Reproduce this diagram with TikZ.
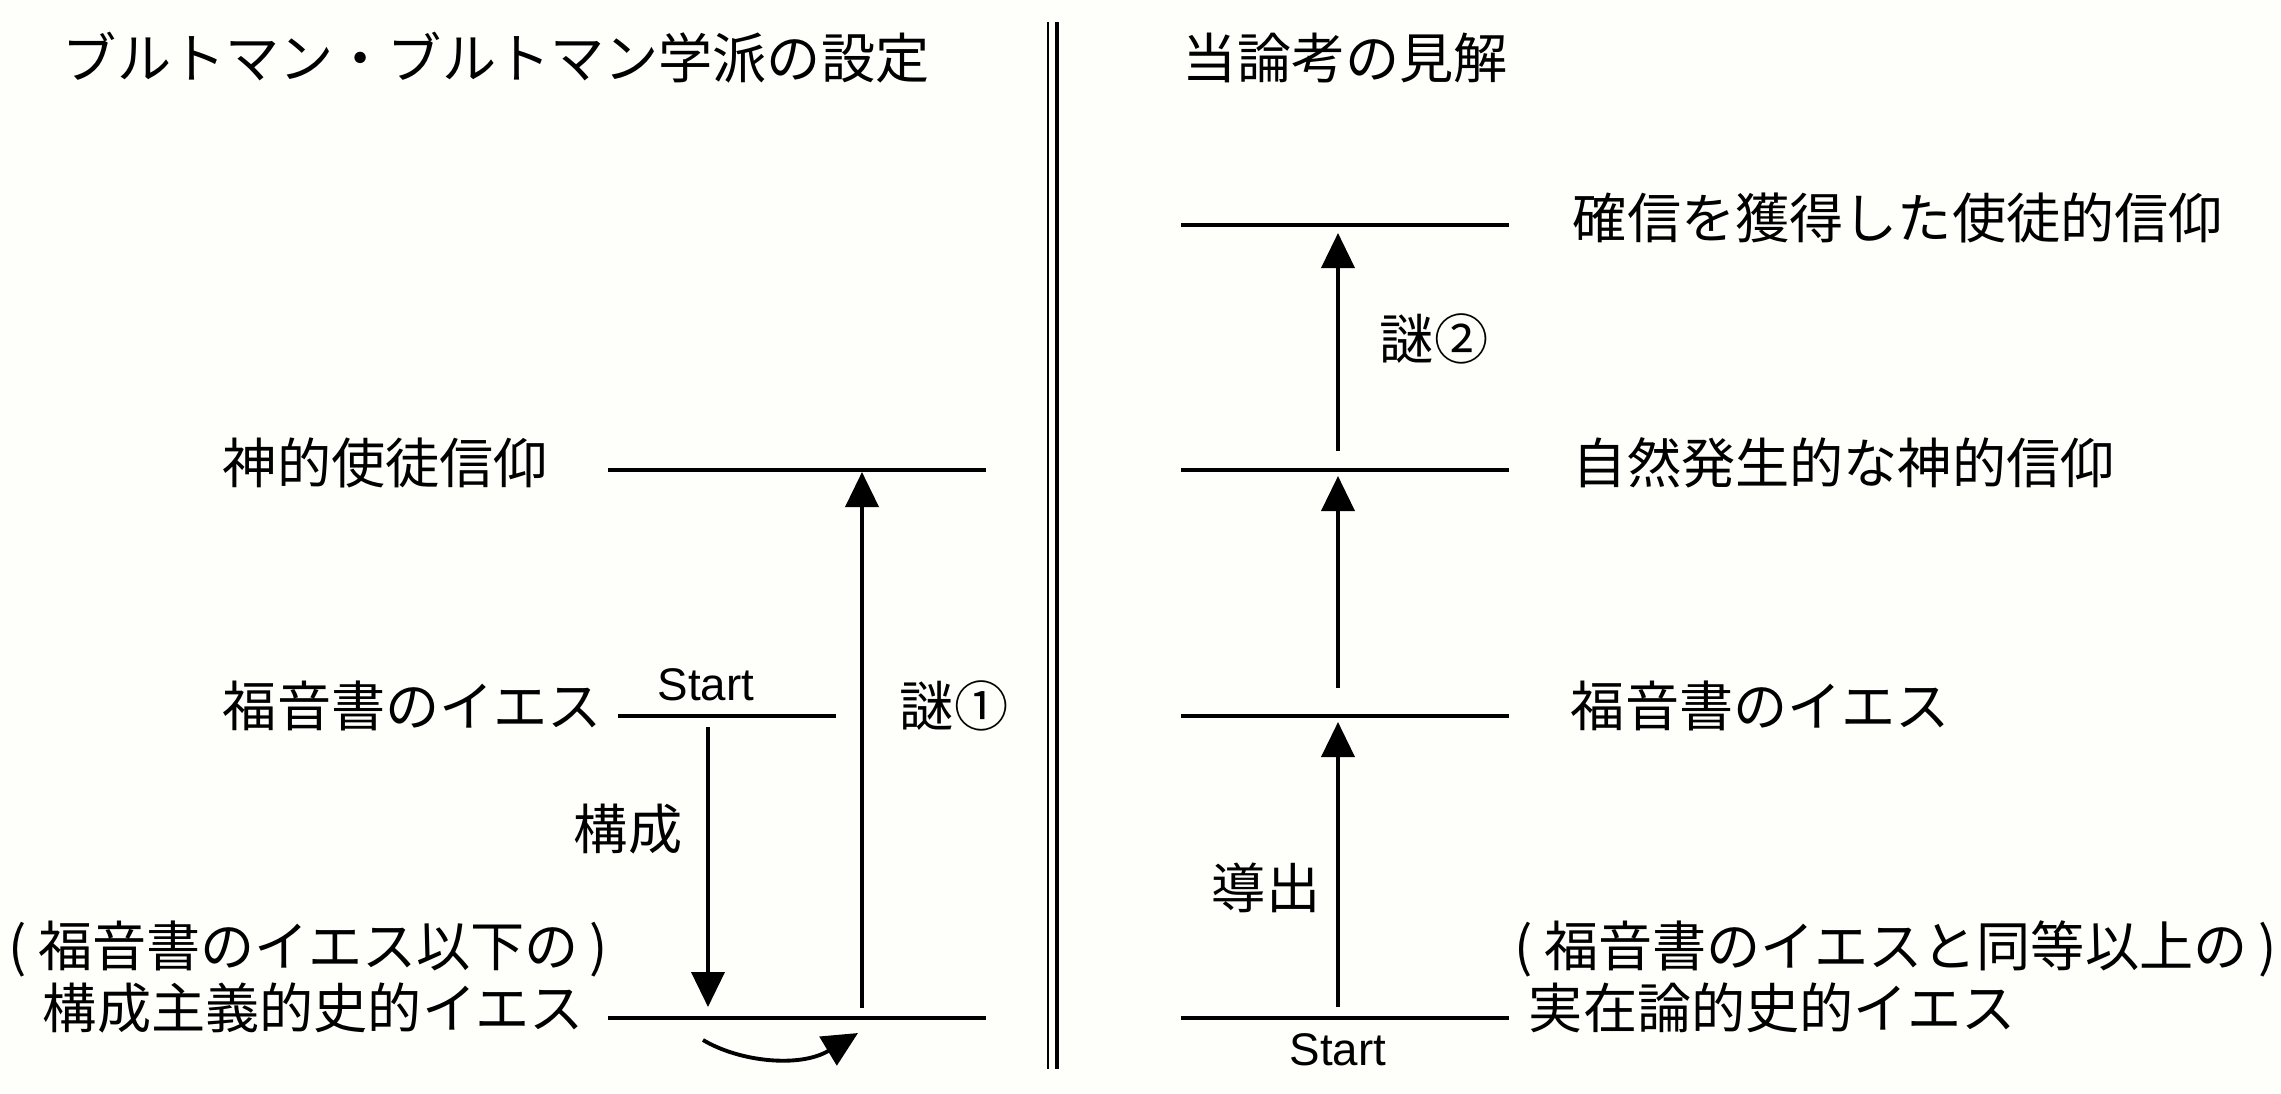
\documentclass[tikz,border=0pt]{standalone}
\usepackage{fontspec}
\setmainfont{Noto Sans CJK JP}
\newfontfamily\latinfont{Liberation Sans}
\usetikzlibrary{arrows.meta}
\definecolor{paper}{RGB}{254,254,250}

\begin{document}
\begin{tikzpicture}[x=0.01cm, y=-0.01cm, >={Triangle[length=3.5mm, width=3.3mm]}, line width=1.1pt,
    lvltext/.style={anchor=west, inner sep=0pt, font=\fontsize{15.4}{18}\selectfont, text height=0.88em, text depth=0.12em},
    startlbl/.style={inner sep=0pt, font=\latinfont\fontsize{13}{15}\selectfont}]
    % 背景
    \fill[paper] (0, 0) rectangle (2281, 1093);
    \useasboundingbox (0, 0) rectangle (2281, 1093);

    % 見出し
    \node[lvltext] (titleL) at (61, 65) {ブルトマン・ブルトマン学派の設定};
    \node[lvltext] (titleR) at (1181, 65) {当論考の見解};

    % 区切りの二重線
    \coordinate (sepA1) at (1048, 22);  \coordinate (sepA2) at (1048, 1069);
    \coordinate (sepB1) at (1057, 22);  \coordinate (sepB2) at (1057, 1069);
    \draw[line width=0.6pt] (sepA1) -- (sepA2);
    \draw[line width=1.3pt] (sepB1) -- (sepB2);

    % 左側：水平線
    \coordinate (lTop1) at (608, 470);  \coordinate (lTop2) at (986, 470);
    \coordinate (lMid1) at (618, 716);  \coordinate (lMid2) at (836, 716);
    \coordinate (lBot1) at (608, 1018); \coordinate (lBot2) at (986, 1018);
    \draw (lTop1) -- (lTop2);
    \draw (lMid1) -- (lMid2);
    \draw (lBot1) -- (lBot2);

    % 左側：文字
    \node[lvltext] (lTopText) at (221, 470) {神的使徒信仰};
    \node[lvltext] (lMidText) at (221, 713) {福音書のイエス};
    \node[lvltext] (lBotNote) at (7, 953) {(\kern0.2em福音書のイエス以下の\kern0.2em)};
    \node[lvltext] (lBotText) at (41, 1015) {構成主義的史的イエス};
    \node[startlbl] (lStart) at (706, 685) {Start};
    \node[lvltext] (kousei) at (572, 836) {構成};
    \node[lvltext] (nazo1) at (898, 713) {謎①};

    % 左側：矢印
    \coordinate (dnA) at (708, 727);  \coordinate (dnB) at (708, 1007);
    \coordinate (upA) at (862, 1008); \coordinate (upB) at (862, 472);
    \draw[->] (dnA) -- (dnB);
    \draw[->] (upA) -- (upB);
    \coordinate (crvA) at (703, 1040); \coordinate (crvB) at (858, 1033);
    \draw[->] (crvA) .. controls (740, 1062) and (800, 1068) .. (crvB);

    % 右側：水平線
    \foreach \y/\nm in {225/r4, 470/r3, 716/r2, 1018/r1} {
        \coordinate (\nm a) at (1181, \y);
        \coordinate (\nm b) at (1509, \y);
        \draw (\nm a) -- (\nm b);
    }

    % 右側：文字
    \node[lvltext] (r4Text) at (1571, 225) {確信を獲得した使徒的信仰};
    \node[lvltext] (r3Text) at (1571, 470) {自然発生的な神的信仰};
    \node[lvltext] (r2Text) at (1569, 713) {福音書のイエス};
    \node[lvltext] (r1Note) at (1513, 953) {(\kern0.2em福音書のイエスと同等以上の\kern0.2em)};
    \node[lvltext] (r1Text) at (1527, 1015) {実在論的史的イエス};
    \node[startlbl] (rStart) at (1338, 1050) {Start};
    \node[lvltext] (nazo2) at (1378, 346) {謎②};
    \node[lvltext] (doushutsu) at (1210, 895) {導出};

    % 右側：矢印
    \coordinate (ra1) at (1338, 1007); \coordinate (rb1) at (1338, 722);
    \coordinate (ra2) at (1338, 688);  \coordinate (rb2) at (1338, 476);
    \coordinate (ra3) at (1338, 451);  \coordinate (rb3) at (1338, 233);
    \foreach \i in {1, 2, 3} {
        \draw[->] (ra\i) -- (rb\i);
    }
\end{tikzpicture}
\end{document}
